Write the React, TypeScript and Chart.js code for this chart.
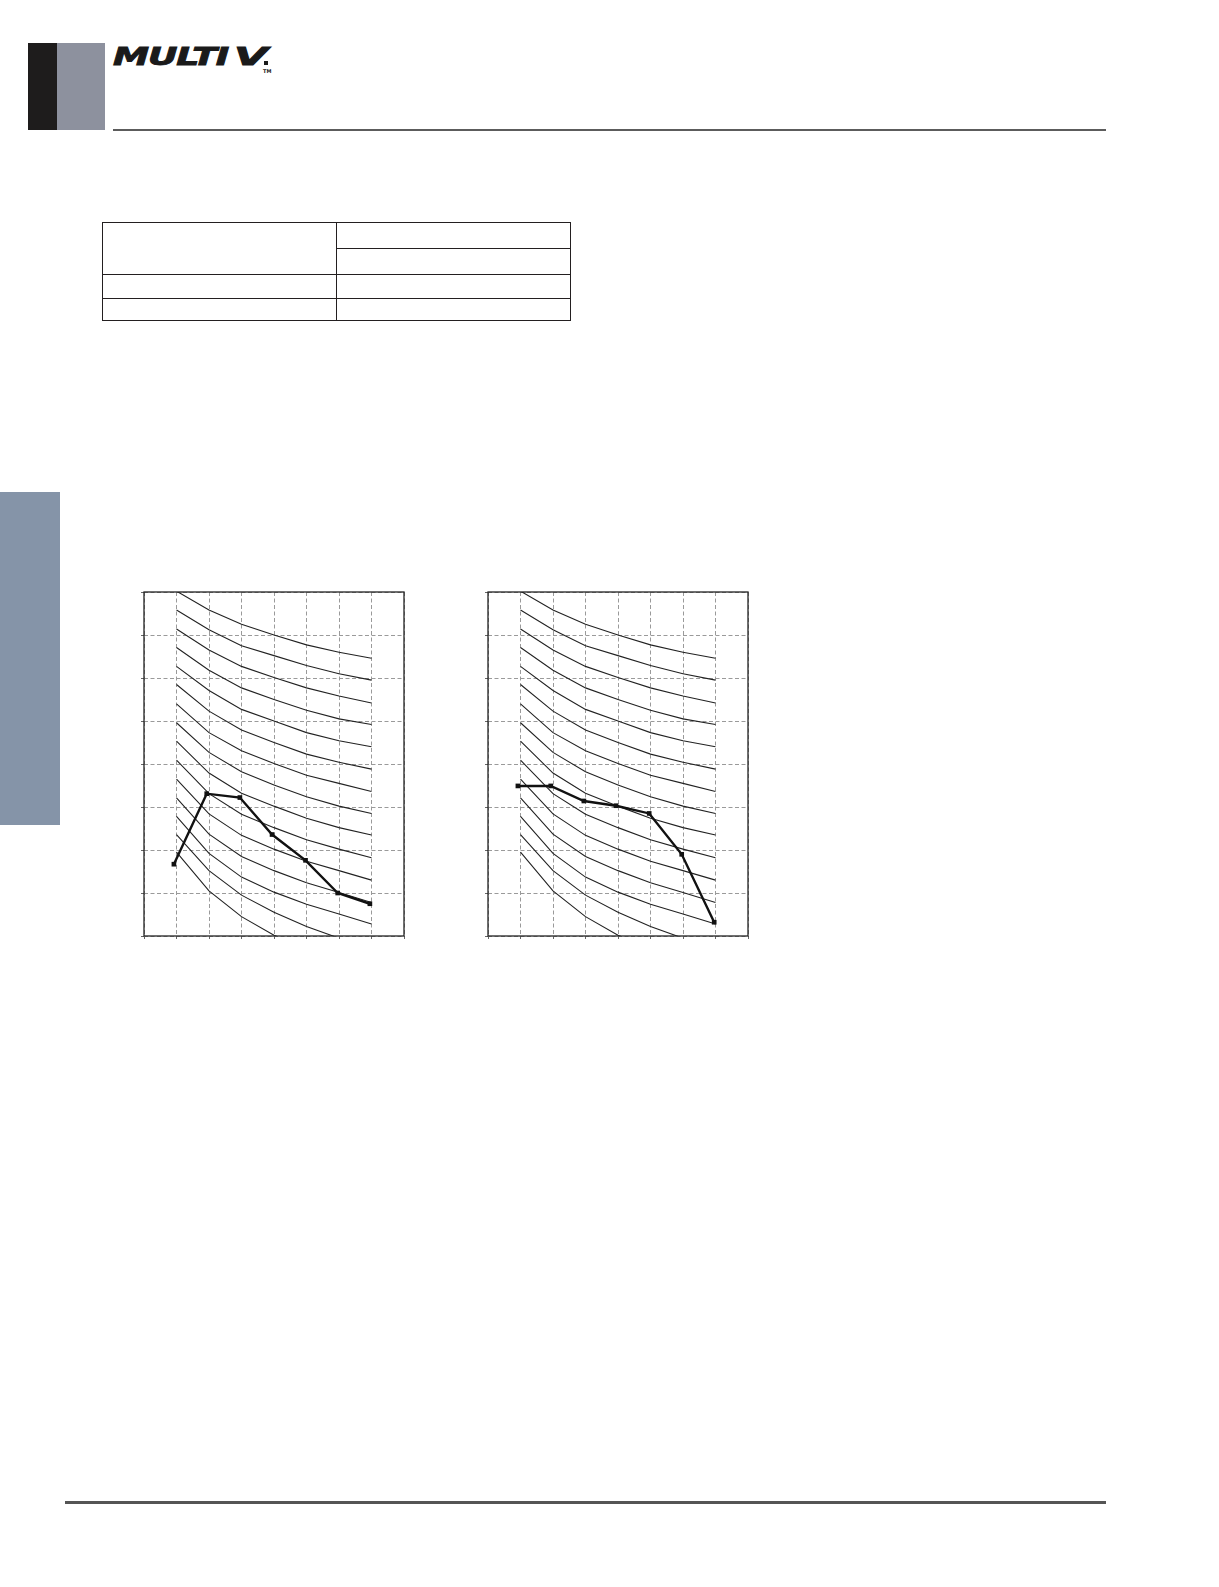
import React, { useEffect, useRef } from "react";
import { Chart, registerables } from "chart.js";

Chart.register(...registerables);

// ---- data ----
const curveX = [1, 2, 3, 4, 5, 6, 7];
const curve01 = [8.02, 7.58, 7.25, 7.0, 6.77, 6.6, 6.46];
const curve02 = [7.58, 7.12, 6.75, 6.52, 6.29, 6.1, 5.95];
const curve03 = [7.14, 6.65, 6.27, 6.01, 5.77, 5.58, 5.42];
const curve04 = [6.71, 6.18, 5.77, 5.5, 5.25, 5.05, 4.92];
const curve05 = [6.27, 5.71, 5.27, 5.0, 4.73, 4.54, 4.4];
const curve06 = [5.85, 5.23, 4.79, 4.5, 4.23, 4.04, 3.88];
const curve07 = [5.4, 4.73, 4.31, 4.01, 3.74, 3.55, 3.36];
const curve08 = [4.96, 4.27, 3.82, 3.51, 3.24, 3.02, 2.85];
const curve09 = [4.53, 3.79, 3.32, 3.02, 2.74, 2.52, 2.35];
const curve10 = [4.09, 3.31, 2.83, 2.52, 2.24, 2.02, 1.82];
const curve11 = [3.65, 2.84, 2.34, 2.02, 1.74, 1.52, 1.3];
const curve12 = [3.21, 2.37, 1.85, 1.52, 1.24, 1.01, 0.78];
const curve13 = [2.78, 1.92, 1.37, 1.02, 0.74, 0.51, 0.28];
const curve14 = [2.36, 1.52, 0.95, 0.55, 0.22, -0.05, -0.28];
const curve15 = [1.95, 1.05, 0.45, 0.02, -0.3, -0.55, -0.75];
const curves = [
  curve01, curve02, curve03, curve04, curve05, curve06, curve07, curve08,
  curve09, curve10, curve11, curve12, curve13, curve14, curve15,
];

const series1X = [0.92, 1.93, 2.95, 3.94, 4.97, 5.96, 6.95];
const series1Y = [1.67, 3.31, 3.22, 2.36, 1.76, 1.0, 0.75];
const series2X = [0.92, 1.93, 2.95, 3.94, 4.96, 5.96, 6.96];
const series2Y = [3.49, 3.49, 3.14, 3.03, 2.85, 1.9, 0.32];

const axisMin = 0;
const axisMax = 8;

const frame = {
  id: "frame",
  beforeDatasetsDraw(chart: any) {
    const { ctx, chartArea: a } = chart;
    ctx.save();
    ctx.strokeStyle = "#222";
    ctx.lineWidth = 1.3;
    ctx.setLineDash([]);
    ctx.strokeRect(a.left, a.top, a.right - a.left, a.bottom - a.top);
    ctx.restore();
  },
};

function PerfChart({ xs, ys }: { xs: number[]; ys: number[] }) {
  const ref = useRef<HTMLCanvasElement | null>(null);
  useEffect(() => {
    if (!ref.current) return;
    const grid = {
      color: "#9a9a9a",
      lineWidth: 1,
      drawTicks: true,
      tickLength: 3,
      tickColor: "#666",
      tickBorderDash: [],
    };
    const border = { display: false, dash: [4, 2.5] };
    const chart = new Chart(ref.current, {
      type: "line",
      data: {
        datasets: [
          {
            data: xs.map((x, i) => ({ x, y: ys[i] })),
            borderColor: "#111",
            borderWidth: 2.4,
            pointStyle: "rect",
            pointRadius: 3.3,
            pointBackgroundColor: "#111",
            pointBorderWidth: 0,
            tension: 0,
          },
          ...curves.map((c) => ({
            data: curveX.map((x, i) => ({ x, y: c[i] })),
            borderColor: "#222",
            borderWidth: 1.1,
            pointRadius: 0,
            tension: 0,
            clip: 0,
          })),
        ],
      },
      options: {
        animation: false,
        responsive: true,
        maintainAspectRatio: false,
        layout: { padding: { top: 2, right: 2, left: 0, bottom: 0 } },
        plugins: { legend: { display: false }, tooltip: { enabled: false } },
        scales: {
          x: {
            type: "linear",
            min: axisMin,
            max: axisMax,
            ticks: { display: false, stepSize: 1 },
            grid,
            border,
          },
          y: {
            type: "linear",
            min: axisMin,
            max: axisMax,
            ticks: { display: false, stepSize: 1 },
            grid,
            border,
          },
        },
      },
      plugins: [frame],
    } as any);
    return () => chart.destroy();
  }, [xs, ys]);
  return <canvas ref={ref} />;
}

const abs = (l: number, t: number, w: number, h: number, extra: any = {}) => ({
  position: "absolute" as const,
  left: l,
  top: t,
  width: w,
  height: h,
  ...extra,
});

const logoFont = {
  fontFamily: "'DejaVu Sans', sans-serif",
  fontWeight: 900,
  fontStyle: "italic",
  fontSize: 25,
  lineHeight: "25px",
  color: "#1a1a1a",
  whiteSpace: "nowrap",
  WebkitTextStroke: "0.9px #1a1a1a",
};

export default function App() {
  const line = "#231f20";
  return (
    <div style={abs(0, 0, 1219, 1587, { background: "#fff", overflow: "hidden" })}>
      {/* header blocks */}
      <div style={abs(28, 43, 29, 87, { background: "#1e1c1c" })} />
      <div style={abs(57, 43, 48, 87, { background: "#8d919e" })} />
      {/* logo */}
      <div style={abs(113, 43.5, 160, 26, logoFont)}>
        <span style={{ display: "inline-block", transform: "scaleX(1.45)", transformOrigin: "left", letterSpacing: -0.8 }}>MULTI</span>
      </div>
      <div style={abs(234, 43.5, 40, 26, logoFont)}>
        <span style={{ display: "inline-block", transform: "scaleX(1.75)", transformOrigin: "left" }}>V</span>
      </div>
      <div style={abs(264, 61, 4, 4, { background: "#1a1a1a" })} />
      <div
        style={abs(263, 67, 14, 8, {
          fontFamily: "'DejaVu Sans', sans-serif",
          fontWeight: 700,
          fontSize: 5,
          lineHeight: "8px",
          color: "#1a1a1a",
        })}
      >
        TM
      </div>
      {/* header rule */}
      <div style={abs(113, 128.5, 993, 2, { background: "#5c5c5c" })} />

      {/* table */}
      <div style={abs(102, 222, 469, 99, { border: `1.4px solid ${line}`, boxSizing: "border-box" })} />
      <div style={abs(335.7, 222, 1.4, 99, { background: line })} />
      <div style={abs(336, 247.6, 235, 1.4, { background: line })} />
      <div style={abs(102, 273.6, 469, 1.4, { background: line })} />
      <div style={abs(102, 297.6, 469, 1.4, { background: line })} />

      {/* side bar */}
      <div style={abs(0, 492, 60, 333, { background: "#8594a8" })} />

      {/* charts */}
      <div style={abs(140, 588, 268, 352)}>
        <PerfChart xs={series1X} ys={series1Y} />
      </div>
      <div style={abs(484, 588, 268, 352)}>
        <PerfChart xs={series2X} ys={series2Y} />
      </div>

      {/* footer rule */}
      <div style={abs(65, 1501, 1041, 3, { background: "#555" })} />
    </div>
  );
}
